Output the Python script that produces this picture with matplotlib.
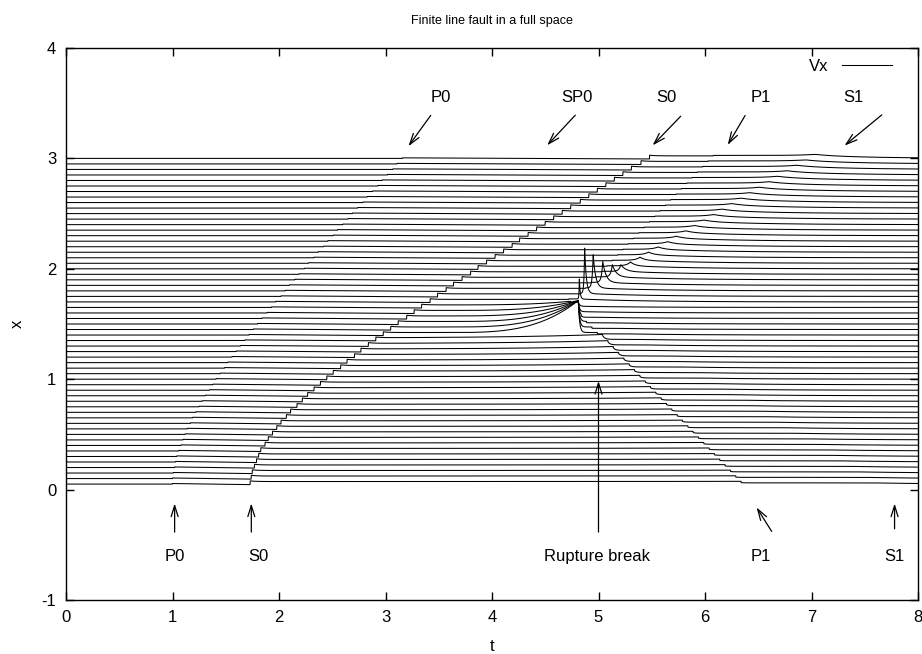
import numpy as np
import matplotlib
matplotlib.use("Agg")
import matplotlib.pyplot as plt

plt.rcParams['font.family'] = ['Liberation Sans', 'DejaVu Sans']
plt.rcParams['axes.unicode_minus'] = False

# ---------------- data ----------------
# station offsets (one trace per offset)
offsets = [0.05, 0.10, 0.15, 0.20, 0.25, 0.30, 0.35, 0.40, 0.45, 0.50,
           0.55, 0.60, 0.65, 0.70, 0.75, 0.80, 0.85, 0.90, 0.95, 1.00,
           1.05, 1.10, 1.15, 1.20, 1.25, 1.30, 1.35, 1.40, 1.45, 1.50,
           1.55, 1.60, 1.65, 1.70, 1.75, 1.80, 1.85, 1.90, 1.95, 2.00,
           2.05, 2.10, 2.15, 2.20, 2.25, 2.30, 2.35, 2.40, 2.45, 2.50,
           2.55, 2.60, 2.65, 2.70, 2.75, 2.80, 2.85, 2.90, 2.95, 3.00]

# arrival times of the phases on each trace
t_p0 = [1.00, 1.00, 1.01, 1.02, 1.03, 1.04, 1.06, 1.08, 1.10, 1.12,
        1.14, 1.17, 1.19, 1.22, 1.25, 1.28, 1.31, 1.35, 1.38, 1.41,
        1.45, 1.49, 1.52, 1.56, 1.60, 1.64, 1.68, 1.72, 1.76, 1.80,
        1.84, 1.89, 1.93, 1.97, 2.02, 2.06, 2.10, 2.15, 2.19, 2.24,
        2.28, 2.33, 2.37, 2.42, 2.46, 2.51, 2.55, 2.60, 2.65, 2.69,
        2.74, 2.79, 2.83, 2.88, 2.93, 2.97, 3.02, 3.07, 3.11, 3.16]

t_s0 = [1.73, 1.74, 1.75, 1.77, 1.79, 1.81, 1.83, 1.87, 1.90, 1.94,
        1.98, 2.02, 2.07, 2.11, 2.17, 2.22, 2.27, 2.33, 2.39, 2.45,
        2.51, 2.58, 2.64, 2.71, 2.77, 2.84, 2.91, 2.98, 3.05, 3.12,
        3.20, 3.27, 3.34, 3.42, 3.49, 3.57, 3.64, 3.72, 3.80, 3.87,
        3.95, 4.03, 4.11, 4.19, 4.26, 4.34, 4.42, 4.50, 4.58, 4.66,
        4.74, 4.83, 4.91, 4.99, 5.07, 5.15, 5.23, 5.31, 5.40, 5.48]

t_p1 = [6.34, 6.29, 6.24, 6.19, 6.14, 6.09, 6.04, 5.99, 5.94, 5.89,
        5.84, 5.79, 5.74, 5.69, 5.64, 5.59, 5.54, 5.49, 5.44, 5.39,
        5.34, 5.29, 5.24, 5.19, 5.14, 5.09, 5.04, 4.99, 4.94, 4.89,
        4.84, 4.79, 4.74, 4.72, 4.83, 4.88, 4.93, 4.98, 5.03, 5.08,
        5.13, 5.18, 5.23, 5.28, 5.33, 5.38, 5.43, 5.48, 5.53, 5.58,
        5.63, 5.68, 5.73, 5.78, 5.83, 5.88, 5.93, 5.98, 6.03, 6.08]

t_s1 = [7.57, 7.49, 7.40, 7.32, 7.23, 7.14, 7.06, 6.97, 6.88, 6.80,
        6.71, 6.62, 6.54, 6.45, 6.36, 6.28, 6.19, 6.10, 6.02, 5.93,
        5.84, 5.76, 5.67, 5.59, 5.50, 5.41, 5.33, 5.24, 5.15, 5.07,
        4.98, 4.89, 4.81, 4.82, 4.87, 4.95, 5.04, 5.13, 5.21, 5.30,
        5.39, 5.47, 5.56, 5.65, 5.73, 5.82, 5.90, 5.99, 6.08, 6.16,
        6.25, 6.34, 6.42, 6.51, 6.60, 6.68, 6.77, 6.86, 6.94, 7.03]

# near-field (rupture) amplitude on each trace
nf_amp = [0.002, 0.002, 0.003, 0.003, 0.003, 0.003, 0.004, 0.004, 0.004, 0.005,
          0.005, 0.006, 0.006, 0.007, 0.007, 0.008, 0.009, 0.010, 0.011, 0.012,
          0.014, 0.016, 0.018, 0.020, 0.023, 0.026, 0.032, 0.29, 0.24, 0.19,
          0.14, 0.09, 0.04, 0.0, 0.0, 0.0, 0.0, 0.0, 0.0, 0.0,
          0.0, 0.0, 0.0, 0.0, 0.0, 0.0, 0.0, 0.0, 0.0, 0.0,
          0.0, 0.0, 0.0, 0.0, 0.0, 0.0, 0.0, 0.0, 0.0, 0.0]

# stopping-phase spike amplitude on each trace
spike_amp = [0.0] * 33 + [0.18, 0.41, 0.30, 0.19, 0.11, 0.06, 0.035,
                          0.028, 0.024, 0.021, 0.019, 0.018, 0.017, 0.016, 0.015, 0.015, 0.014,
                          0.014, 0.013, 0.013, 0.012, 0.012, 0.011, 0.011, 0.011, 0.010, 0.010]

break_t = 4.81          # rupture break time
converge_from = 1.40    # traces converging on the break point
rise_start = 3.6        # start of the converging rise

p0_step = 0.005
drift = 0.010
s0_step = 0.018
p1_step_low = -0.012
p1_step_high = 0.004

# ---------------- build traces ----------------
t = np.linspace(0.0, 8.0, 4001)


def vx(i):
    x = offsets[i]
    tp0, ts0, tp1, ts1 = t_p0[i], t_s0[i], t_p1[i], t_s1[i]
    v = np.zeros_like(t)
    v += p0_step * (t >= tp0)
    m = (t >= tp0) & (t < ts0)
    v[m] -= drift * (t[m] - tp0) / (ts0 - tp0)
    m = t >= ts0
    v[m] += s0_step + 0.006 * np.exp(-(t[m] - ts0) / 0.05)
    p1 = p1_step_low if x < 1.70 else p1_step_high
    v[t >= tp1] += p1
    m = t >= ts1
    v[m] -= (p0_step + s0_step + p1) * (1 - np.exp(-(t[m] - ts1) / 0.6))
    a = nf_amp[i]
    if a > 0:
        if x >= converge_from:
            pre = (t < break_t) & (t > rise_start)
            v[pre] += a * ((t[pre] - rise_start) / (break_t - rise_start)) ** 3.2
            post = t >= break_t
            v[post] += a * np.exp(-(t[post] - break_t) / 0.012)
        else:
            pre = t < tp1
            v[pre] += a * np.exp(-(tp1 - t[pre]) / 0.9)
            v[~pre] += a * np.exp(-(t[~pre] - tp1) / 0.02)
    s = spike_amp[i]
    if s > 0:
        if x < 2.0:
            w = 0.008 + 0.15 * (x - 1.70)
            rise = 0.4 * w
        else:
            w = 0.008 + 0.12 * (x - 1.70)
            rise = 0.8 * w
        d = t - ts1
        v += s * np.where(d < 0, np.exp(np.minimum(d, 0) / rise),
                          np.exp(-np.maximum(d, 0) / w))
    return v


fig = plt.figure(figsize=(9.22, 6.54), dpi=100)
ax = fig.add_axes([66 / 922, 54 / 654, 852 / 922, 552 / 654])

for i, x in enumerate(offsets):
    ax.plot(t, x + vx(i), color='black', lw=0.75,
            label='Vx' if i == 0 else None)

ax.set_xlim(0, 8)
ax.set_ylim(-1, 4)
ax.set_xticks(range(0, 9))
ax.set_yticks(range(-1, 5))
ax.tick_params(direction='in', top=True, right=True, length=6, width=1,
               labelsize=12, pad=7)
for sp in ax.spines.values():
    sp.set_linewidth(1.0)

ax.set_title('Finite line fault in a full space', fontsize=9, pad=17)
ax.set_xlabel('t', fontsize=12, labelpad=10)
ax.set_ylabel('x', fontsize=12, labelpad=12)

leg = ax.legend(loc='upper right', frameon=False, markerfirst=False,
                fontsize=12, handlelength=3.0, borderaxespad=0.0,
                bbox_to_anchor=(0.977, 0.992))

arrow = dict(arrowstyle='->,head_length=0.8,head_width=0.25', color='black', lw=0.9)
top_notes = [('P0', 3.52, 3.55, 3.44, 3.41, 3.20, 3.09),
             ('SP0', 4.80, 3.55, 4.80, 3.41, 4.50, 3.10),
             ('S0', 5.64, 3.55, 5.79, 3.40, 5.49, 3.10),
             ('P1', 6.52, 3.55, 6.39, 3.41, 6.20, 3.10),
             ('S1', 7.39, 3.55, 7.68, 3.41, 7.29, 3.10)]
for txt, tx, ty, x0, y0, x1, y1 in top_notes:
    ax.text(tx, ty, txt, ha='center', va='center', fontsize=12)
    ax.annotate('', xy=(x1, y1), xytext=(x0, y0), arrowprops=arrow)

bottom_notes = [('P0', 1.02, -0.61, 1.02, -0.41, 1.02, -0.10),
                ('S0', 1.81, -0.61, 1.74, -0.41, 1.74, -0.10),
                ('Rupture break', 4.99, -0.61, 5.00, -0.41, 5.00, 1.01),
                ('P1', 6.52, -0.61, 6.64, -0.40, 6.47, -0.14),
                ('S1', 7.78, -0.61, 7.78, -0.38, 7.78, -0.10)]
for txt, tx, ty, x0, y0, x1, y1 in bottom_notes:
    ax.text(tx, ty, txt, ha='center', va='center', fontsize=12)
    ax.annotate('', xy=(x1, y1), xytext=(x0, y0), arrowprops=arrow)

fig.savefig('out.png', dpi=100)
